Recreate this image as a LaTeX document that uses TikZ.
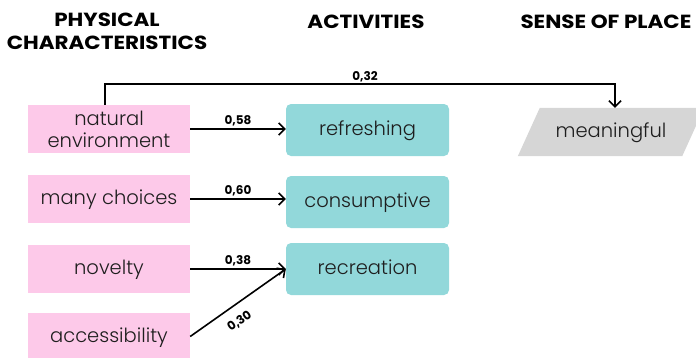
\documentclass[tikz,border=0pt]{standalone}
\usepackage{fontspec}
\setmainfont{Poppins}
\newfontfamily\lightfont{Poppins Light}
\newfontfamily\headfont[FakeStretch=1.13]{Poppins Bold}
\usetikzlibrary{arrows.meta,calc,backgrounds}

\definecolor{pinkbox}{RGB}{253,201,233}
\definecolor{tealbox}{RGB}{146,216,218}
\definecolor{greybox}{RGB}{214,214,214}
\definecolor{ink}{RGB}{30,30,30}

\tikzset{
  heading/.style={font=\headfont\fontsize{19}{23}\selectfont, text=black, align=center, inner sep=0pt},
  bodytext/.style={font=\lightfont\fontsize{19.5}{22}\selectfont, text=ink},
  oneline/.style={text height=14pt, text depth=3pt},
  physbox/.style={bodytext, fill=pinkbox, minimum width=162pt, minimum height=48pt, inner sep=0pt, align=center},
  actbox/.style={bodytext, oneline, fill=tealbox, rounded corners=5pt, minimum width=163pt, minimum height=52pt, inner sep=0pt},
  placebox/.style={bodytext, oneline, minimum width=164pt, minimum height=48pt, inner sep=0pt},
  arr/.style={draw=black, line width=1.6pt, -{Straight Barb[length=6pt,width=12pt,line width=1.6pt]}},
  coef/.style={font=\fontsize{12}{14}\selectfont\bfseries, text=black, inner sep=2pt},
}

\begin{document}
\begin{tikzpicture}[x=1pt, y=-1pt]
  \useasboundingbox (0,0) rectangle (696,357);

  % column headings
  \node[heading] (hphys) at (107,31.5) {PHYSICAL\\CHARACTERISTICS};
  \node[heading] (hact) at (366,22) {ACTIVITIES};
  \node[heading] (hplace) at (606,22) {SENSE OF PLACE};

  % physical characteristics
  \node[physbox] (nat) at (109,129) {natural\\environment};
  \node[physbox, oneline] (many) at (109,199) {many choices};
  \node[physbox, oneline] (nov) at (109,269) {novelty};
  \node[physbox, oneline] (acc) at (109,336.5) {accessibility};

  % activities
  \node[actbox] (ref) at (367.5,130) {refreshing};
  \node[actbox] (cons) at (367.5,202) {consumptive};
  \node[actbox] (rec) at (367.5,269) {recreation};

  % sense of place: slanted panel behind the text
  \node[placebox] (mean) at (611,132) {meaningful};
  \begin{scope}[on background layer]
    \fill[greybox] ($(mean.south west)+(-11,0)$) -- ($(mean.north west)+(11,0)$)
      -- ($(mean.north east)+(11,0)$) -- ($(mean.south east)+(-11,0)$) -- cycle;
  \end{scope}

  % paths with coefficients
  \draw[arr] (nat.east) -- (nat.east -| ref.west) node[coef, midway, above] {0,58};
  \draw[arr] (many.east) -- (many.east -| cons.west) node[coef, midway, above] {0,60};
  \draw[arr] (nov.east) -- (rec.west) node[coef, midway, above] {0,38};
  \draw[arr] (acc.east) -- (rec.west) node[coef, pos=0.42, below=8pt, sloped] {0,30};

  \coordinate (natup) at ($(nat.north)+(-4,0)$);
  \coordinate (meanin) at ($(mean.north)+(4,0)$);
  \draw[arr] (natup) -- (natup |- 0,84) -| (meanin);
  \node[coef, above] (c32) at (365,84) {0,32};
\end{tikzpicture}
\end{document}
